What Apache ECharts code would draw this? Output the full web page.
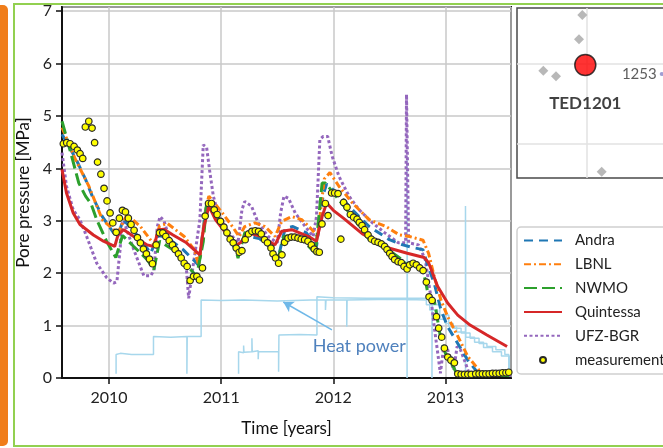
<!DOCTYPE html>
<html>
<head>
<meta charset="utf-8">
<script src="https://cdn.jsdelivr.net/npm/echarts@6/dist/echarts.min.js"></script>
<style>html,body{margin:0;padding:0;background:#fff;}#c{width:663px;height:448px;}</style>
</head>
<body>
<div id="c"></div>
<script>
// ---- data (time in decimal years, pressure in MPa) ----
const andra = [[2009.58,4.65],[2009.70,4.20],[2009.79,3.79],[2009.85,3.47],[2009.94,3.08],[2010.04,2.77],[2010.07,2.70],[2010.13,3.02],[2010.30,2.60],[2010.37,2.38],[2010.44,2.72],[2010.52,2.68],[2010.66,2.45],[2010.75,2.26],[2010.80,2.15],[2010.86,3.20],[2010.88,3.36],[2011.06,2.77],[2011.15,2.32],[2011.22,2.72],[2011.34,2.66],[2011.47,2.45],[2011.52,2.40],[2011.57,2.85],[2011.64,2.89],[2011.76,2.77],[2011.85,2.51],[2011.91,3.50],[2011.94,3.70],[2012.05,3.50],[2012.17,3.21],[2012.32,2.89],[2012.50,2.64],[2012.62,2.54],[2012.73,2.48],[2012.80,2.45],[2012.84,2.16],[2012.90,1.81],[2012.96,1.30],[2013.02,0.98],[2013.11,0.66],[2013.20,0.34],[2013.27,0.15],[2013.32,0.08],[2013.585,0.07]];
const lbnl = [[2009.58,4.78],[2009.70,4.17],[2009.82,3.66],[2009.88,3.34],[2009.94,3.02],[2010.04,2.83],[2010.08,2.77],[2010.16,3.12],[2010.28,2.89],[2010.40,2.55],[2010.45,2.90],[2010.52,2.95],[2010.67,2.70],[2010.76,2.45],[2010.80,2.15],[2010.87,3.30],[2010.89,3.47],[2011.01,3.15],[2011.10,2.89],[2011.16,2.70],[2011.21,2.89],[2011.30,2.96],[2011.39,2.89],[2011.48,2.70],[2011.54,2.99],[2011.63,3.08],[2011.72,3.02],[2011.81,2.83],[2011.86,2.70],[2011.92,3.80],[2011.97,3.92],[2012.05,3.66],[2012.17,3.34],[2012.32,3.02],[2012.47,2.89],[2012.59,2.73],[2012.68,2.70],[2012.80,2.63],[2012.85,2.38],[2012.90,1.94],[2012.96,1.49],[2013.02,1.17],[2013.11,0.80],[2013.20,0.41],[2013.30,0.15],[2013.35,0.08],[2013.585,0.07]];
const nwmo = [[2009.58,4.90],[2009.65,4.36],[2009.73,3.72],[2009.79,3.47],[2009.84,3.32],[2009.89,3.02],[2009.98,2.60],[2010.06,2.30],[2010.12,2.72],[2010.22,2.51],[2010.34,2.26],[2010.40,2.07],[2010.45,2.61],[2010.57,2.45],[2010.69,2.16],[2010.78,1.94],[2010.84,2.60],[2010.87,3.34],[2010.99,2.96],[2011.05,2.80],[2011.11,2.62],[2011.15,2.29],[2011.21,2.77],[2011.27,2.83],[2011.36,2.70],[2011.48,2.38],[2011.51,2.29],[2011.56,2.70],[2011.63,2.72],[2011.75,2.58],[2011.84,2.38],[2011.90,3.72],[2011.93,3.72],[2012.05,3.40],[2012.17,3.08],[2012.32,2.64],[2012.49,2.45],[2012.61,2.26],[2012.67,2.13],[2012.72,2.26],[2012.79,2.10],[2012.82,1.87],[2012.85,1.55],[2012.90,1.49],[2012.93,1.11],[2012.96,0.73],[2013.00,0.47],[2013.07,0.22],[2013.10,0.08],[2013.15,0.05],[2013.585,0.05]];
const quintessa = [[2009.58,3.98],[2009.62,3.53],[2009.68,3.15],[2009.74,2.93],[2009.86,2.73],[2009.95,2.61],[2010.05,2.51],[2010.08,2.73],[2010.13,2.83],[2010.22,2.70],[2010.34,2.54],[2010.40,2.51],[2010.44,2.83],[2010.49,2.84],[2010.57,2.73],[2010.69,2.58],[2010.81,2.35],[2010.84,2.83],[2010.89,3.28],[2010.95,3.02],[2011.04,2.77],[2011.14,2.54],[2011.17,2.58],[2011.24,2.77],[2011.36,2.70],[2011.48,2.54],[2011.54,2.80],[2011.63,2.83],[2011.78,2.70],[2011.85,2.61],[2011.90,3.08],[2011.94,3.34],[2012.00,3.20],[2012.09,3.05],[2012.26,2.75],[2012.51,2.47],[2012.66,2.38],[2012.81,2.30],[2012.85,2.20],[2012.93,1.75],[2013.02,1.43],[2013.11,1.20],[2013.22,1.01],[2013.37,0.82],[2013.55,0.60]];
const ufzBgr = [[2009.58,4.30],[2009.62,3.66],[2009.68,3.21],[2009.74,3.02],[2009.80,2.70],[2009.89,2.19],[2009.98,1.91],[2010.04,1.81],[2010.07,1.84],[2010.10,2.50],[2010.11,2.93],[2010.13,3.00],[2010.22,2.45],[2010.31,1.95],[2010.37,1.95],[2010.40,2.05],[2010.43,2.89],[2010.455,3.08],[2010.49,3.00],[2010.55,2.58],[2010.63,2.40],[2010.69,2.07],[2010.71,1.52],[2010.74,2.00],[2010.81,3.02],[2010.84,4.45],[2010.87,4.40],[2010.90,3.91],[2010.93,3.47],[2010.98,3.08],[2011.07,2.77],[2011.15,2.58],[2011.185,3.21],[2011.21,3.37],[2011.27,3.28],[2011.33,2.96],[2011.42,2.70],[2011.50,2.58],[2011.53,3.15],[2011.56,3.47],[2011.60,3.43],[2011.66,3.15],[2011.75,2.89],[2011.82,2.70],[2011.85,3.08],[2011.88,4.55],[2011.91,4.61],[2011.95,4.61],[2011.99,4.23],[2012.05,3.85],[2012.14,3.47],[2012.23,3.21],[2012.35,2.96],[2012.46,2.77],[2012.58,2.58],[2012.645,2.58],[2012.653,5.41],[2012.665,5.41],[2012.672,2.58],[2012.76,2.54],[2012.82,2.26],[2012.87,1.55],[2012.90,0.98],[2012.93,0.50],[2012.955,0.09],[2012.985,0.60],[2013.015,0.58],[2013.045,0.34],[2013.074,0.15],[2013.104,0.60],[2013.134,0.54],[2013.18,0.28],[2013.21,0.09],[2013.25,0.05],[2013.585,0.05]];
const measurements = [[2009.592,4.47],[2009.622,4.49],[2009.652,4.47],[2009.688,4.42],[2009.717,4.35],[2009.741,4.28],[2009.765,4.19],[2009.788,4.79],[2009.819,4.90],[2009.848,4.77],[2009.871,4.49],[2009.897,4.12],[2009.927,3.89],[2009.955,3.62],[2009.982,3.38],[2010.009,3.15],[2010.033,2.96],[2010.063,2.78],[2010.092,3.05],[2010.119,3.20],[2010.146,3.17],[2010.172,3.05],[2010.196,2.93],[2010.223,2.82],[2010.253,2.68],[2010.279,2.58],[2010.306,2.46],[2010.333,2.37],[2010.360,2.27],[2010.387,2.18],[2010.420,2.54],[2010.449,2.77],[2010.479,2.77],[2010.506,2.70],[2010.536,2.62],[2010.565,2.54],[2010.589,2.45],[2010.619,2.37],[2010.643,2.29],[2010.670,2.19],[2010.696,2.13],[2010.723,1.86],[2010.753,1.94],[2010.783,1.94],[2010.806,1.87],[2010.833,2.10],[2010.857,3.09],[2010.887,3.33],[2010.913,3.33],[2010.938,3.21],[2010.964,3.12],[2010.994,2.99],[2011.024,2.88],[2011.051,2.77],[2011.080,2.65],[2011.107,2.58],[2011.134,2.48],[2011.161,2.40],[2011.185,2.43],[2011.214,2.64],[2011.244,2.75],[2011.274,2.80],[2011.304,2.81],[2011.333,2.80],[2011.357,2.75],[2011.387,2.64],[2011.413,2.58],[2011.444,2.48],[2011.462,2.37],[2011.485,2.29],[2011.512,2.19],[2011.542,2.35],[2011.565,2.59],[2011.596,2.67],[2011.625,2.69],[2011.655,2.69],[2011.685,2.67],[2011.714,2.65],[2011.744,2.64],[2011.774,2.61],[2011.804,2.54],[2011.830,2.46],[2011.854,2.41],[2011.875,2.40],[2011.899,2.94],[2011.929,3.33],[2011.953,3.10],[2011.985,3.53],[2012.012,3.53],[2012.042,3.52],[2012.067,2.65],[2012.092,3.35],[2012.122,3.26],[2012.152,3.12],[2012.181,3.07],[2012.212,3.03],[2012.232,2.97],[2012.256,2.91],[2012.279,2.83],[2012.310,2.73],[2012.339,2.65],[2012.369,2.61],[2012.399,2.59],[2012.429,2.56],[2012.458,2.51],[2012.479,2.45],[2012.503,2.38],[2012.524,2.32],[2012.547,2.26],[2012.578,2.22],[2012.607,2.20],[2012.631,2.13],[2012.658,2.08],[2012.681,2.16],[2012.712,2.19],[2012.741,2.16],[2012.771,2.10],[2012.801,2.05],[2012.830,1.83],[2012.854,1.55],[2012.881,1.48],[2012.920,1.17],[2012.940,0.95],[2012.967,0.78],[2012.991,0.57],[2013.021,0.40],[2013.049,0.34],[2013.080,0.29],[2013.110,0.08],[2013.14,0.07],[2013.17,0.07],[2013.20,0.07],[2013.23,0.07],[2013.27,0.08],[2013.30,0.08],[2013.33,0.08],[2013.36,0.08],[2013.39,0.08],[2013.42,0.09],[2013.45,0.09],[2013.48,0.09],[2013.51,0.10],[2013.54,0.10],[2013.565,0.11]];
const heatPower1 = [[2010.0625,0.08],[2010.0625,0.45],[2010.10,0.47],[2010.20,0.45],[2010.396,0.45],[2010.396,0.79],[2010.55,0.78],[2010.694,0.79],[2010.694,0.08],[2010.697,0.79],[2010.821,0.79],[2010.821,1.49],[2011.00,1.48],[2011.20,1.49],[2011.50,1.47],[2011.80,1.49],[2011.93,1.49],[2011.93,1.30],[2011.935,1.49],[2012.12,1.49],[2012.12,0.98],[2012.123,1.49],[2012.40,1.50],[2012.658,1.50],[2012.658,0.0],[2012.658,4.23],[2012.661,1.50],[2012.83,1.49],[2012.83,1.40],[2012.88,1.40],[2012.88,0.0],[2012.883,1.40],[2012.95,1.40],[2012.95,1.12],[2013.00,1.12],[2013.00,1.04],[2013.07,1.04],[2013.07,0.95],[2013.14,0.95],[2013.14,0.86],[2013.22,0.86],[2013.22,0.76],[2013.30,0.76],[2013.30,0.66],[2013.37,0.66],[2013.37,0.60],[2013.45,0.60],[2013.45,0.54],[2013.53,0.54],[2013.53,0.45],[2013.565,0.45],[2013.565,0.08]];
const heatPower2 = [[2011.155,0.08],[2011.155,0.50],[2011.20,0.48],[2011.20,0.62],[2011.203,0.49],[2011.274,0.50],[2011.274,0.76],[2011.277,0.50],[2011.33,0.52],[2011.33,0.36],[2011.333,0.50],[2011.43,0.50],[2011.512,0.50],[2011.512,0.12],[2011.515,0.82],[2011.70,0.83],[2011.854,0.82],[2011.854,1.55],[2012.00,1.53],[2012.30,1.52],[2012.60,1.52],[2012.86,1.52],[2012.86,1.30],[2012.93,1.30],[2012.93,1.20],[2013.03,1.20],[2013.03,0.98],[2013.10,0.98],[2013.10,0.88],[2013.179,0.88],[2013.179,0.0],[2013.179,3.28],[2013.182,0.78],[2013.26,0.78],[2013.26,0.68],[2013.34,0.68],[2013.34,0.58],[2013.42,0.58],[2013.42,0.50],[2013.50,0.50],[2013.50,0.42],[2013.57,0.42],[2013.57,0.08]];
// inset location map (local map units)
const mapBoreholes = [[65.3,7],[62,31.3],[26.3,62.7],[39,68.3],[84.7,163.7]];
const mapTarget = [[68.3,57]];
const mapNeighbour = [[144.7,66]];
const targetName = 'TED1201';
const neighbourName = '1253';
const legendNames = ['Andra','LBNL','NWMO','Quintessa','UFZ-BGR','measurements'];

const FONT = 'Lato';
const chart = echarts.init(document.getElementById('c'), null, {renderer:'canvas'});

function model(name, data, color, type, width, z){
  return {name, type:'line', data, xAxisIndex:0, yAxisIndex:0, showSymbol:false, symbol:'none',
    lineStyle:{color, width, type, cap:'butt'}, itemStyle:{color}, z, animation:false, silent:true};
}

const option = {
  animation:false,
  backgroundColor:'#fff',
  graphic:[
    {type:'rect', shape:{x:-14,y:5,width:22,height:441,r:5}, style:{fill:'#f07d1a'}, z:0},
    {type:'rect', shape:{x:14,y:4,width:700,height:442}, style:{fill:'none',stroke:'#92d050',lineWidth:2}, z:0}
  ],
  grid:[
    {left:62, top:7, right:152, bottom:70, show:true, borderColor:'#111', borderWidth:2, backgroundColor:'#fff'},
    {left:517, top:8, width:176, bottom:270, outerBoundsMode:'none', containLabel:false,
     show:true, borderColor:'#4a4a4a', borderWidth:1.5, backgroundColor:'#fff'}
  ],
  xAxis:[
    {gridIndex:0, type:'value', min:2009.58, max:2013.585, minInterval:1, maxInterval:1,
     name:'Time [years]', nameLocation:'middle', nameGap:42,
     nameTextStyle:{fontFamily:FONT, fontSize:17, color:'#111'},
     axisLine:{show:true, onZero:false, lineStyle:{color:'#111', width:2}},
     axisTick:{show:true, inside:false, length:6, lineStyle:{color:'#111', width:1.5}},
     axisLabel:{fontFamily:FONT, fontSize:16, color:'#222', margin:12, showMinLabel:false, showMaxLabel:false,
       formatter:v=>String(Math.round(v))},
     splitLine:{show:true, lineStyle:{color:'#c8c8c8', width:1.5}}},
    {gridIndex:1, type:'value', min:0, max:176, show:false, splitLine:{show:false}}
  ],
  yAxis:[
    {gridIndex:0, type:'value', min:0, max:7.08, minInterval:1, maxInterval:1,
     name:'Pore pressure [MPa]', nameLocation:'middle', nameGap:23,
     nameTextStyle:{fontFamily:FONT, fontSize:17, color:'#111'},
     axisLine:{show:true, onZero:false, lineStyle:{color:'#111', width:2}},
     axisTick:{show:true, inside:false, length:6, lineStyle:{color:'#111', width:1.5}},
     axisLabel:{fontFamily:FONT, fontSize:16, color:'#222', margin:10, showMaxLabel:false},
     splitLine:{show:true, lineStyle:{color:'#c8c8c8', width:1.5}}},
    {gridIndex:1, type:'value', min:0, max:170, inverse:true, show:false, splitLine:{show:false}}
  ],
  legend:{
    data: legendNames.map(n => n==='measurements'
      ? {name:n, icon:'path://M0,0M38,14M16,7a3,3 0 1,0 6,0a3,3 0 1,0 -6,0z'}
      : {name:n, itemStyle:{opacity:0, color:'rgba(0,0,0,0)', borderWidth:0}}),
    orient:'vertical', left:517, top:227, selectedMode:false,
    itemWidth:38, itemHeight:14, itemGap:8.8,
    padding:[6,40,6,6], borderColor:'#cfcfcf', borderWidth:1.5, borderRadius:4, backgroundColor:'#fff',
    textStyle:{fontFamily:FONT, fontSize:15, color:'#222', padding:[0,0,0,8]}
  },
  series:[
    {name:'heat1', type:'line', data:heatPower1, showSymbol:false, symbol:'none', z:1, silent:true,
     lineStyle:{color:'#a7d7ec', width:1.5}, itemStyle:{color:'#a7d7ec'},
     markLine:{silent:true, symbol:['none','arrow'], symbolSize:[9,10], label:{show:false},
       lineStyle:{color:'#6fb8e8', width:1.5, type:'solid'},
       data:[[{coord:[2011.988,0.92]},{coord:[2011.554,1.45]}]]},
     markPoint:{silent:true, symbol:'rect', symbolSize:1, itemStyle:{color:'rgba(0,0,0,0)'},
       label:{show:true, position:'inside', formatter:'Heat power', color:'#4f81bd', fontFamily:FONT, fontSize:18},
       data:[{coord:[2012.232,0.61]}]}},
    {name:'heat2', type:'line', data:heatPower2, showSymbol:false, symbol:'none', z:1, silent:true,
     lineStyle:{color:'#a7d7ec', width:1.5}, itemStyle:{color:'#a7d7ec'}},
    model('UFZ-BGR', ufzBgr, '#9467bd', [3,2.5], 3, 3),
    model('Andra', andra, '#1f77b4', [9,6], 3, 4),
    model('LBNL', lbnl, '#ff7f0e', [7,3,2,3], 3, 4),
    model('NWMO', nwmo, '#2ca02c', [13,5], 3, 4),
    model('Quintessa', quintessa, '#d62728', 'solid', 3, 5),
    {name:'measurements', type:'scatter', data:measurements, symbol:'circle', symbolSize:6.5, z:6, silent:true,
     itemStyle:{color:'#ffff00', borderColor:'#2a2a2a', borderWidth:1.2, opacity:1}},
    // inset location map
    {name:'boreholes', type:'scatter', xAxisIndex:1, yAxisIndex:1, data:mapBoreholes, symbol:'diamond', symbolSize:10,
     itemStyle:{color:'#a6a6a6'}, z:3, silent:true,
     markLine:{silent:true, z:1, symbol:'none', label:{show:false}, lineStyle:{color:'#e2e2e2', width:1.5, type:'solid'},
       data:[{xAxis:70},{yAxis:55.3},{yAxis:136}]}},
    {name:'target', type:'scatter', xAxisIndex:1, yAxisIndex:1, data:mapTarget, symbol:'circle', symbolSize:21,
     itemStyle:{color:'#ff0000', borderColor:'#111', borderWidth:1.5}, z:4, silent:true,
     label:{show:true, position:'bottom', distance:19, formatter:targetName, fontFamily:FONT, fontWeight:'bold', fontSize:17, color:'#111'}},
    {name:'neighbour', type:'scatter', xAxisIndex:1, yAxisIndex:1, data:mapNeighbour, symbol:'circle', symbolSize:4,
     itemStyle:{color:'#8a86c8'}, z:4, silent:true,
     label:{show:true, position:'left', distance:3, formatter:neighbourName, fontFamily:FONT, fontSize:15, color:'#333'}}
  ]
};
chart.setOption(option);
</script>
</body>
</html>
